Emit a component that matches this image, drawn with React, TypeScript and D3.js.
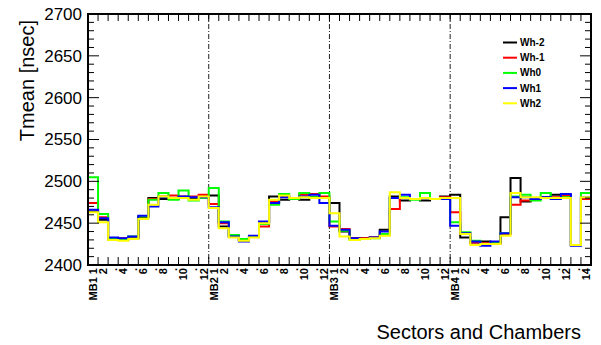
import React, { useRef, useEffect } from "react";
import * as d3 from "d3";

const chambers = ["MB1", "MB2", "MB3", "MB4"];
const sectorCounts = [12, 12, 12, 14];
const seriesNames = ["Wh-2", "Wh-1", "Wh0", "Wh1", "Wh2"];
const seriesColors = ["#000000", "#ff0000", "#00ff00", "#0000ff", "#ffff00"];
const yTickValues = [2400, 2450, 2500, 2550, 2600, 2650, 2700];

// values per bin: MB1 (12), MB2 (12), MB3 (12), MB4 (14)
const whM2 = [
  2464, 2454, 2430, 2430, 2432, 2457, 2480, 2479, 2479, 2481, 2480, 2482,
  2483, 2446, 2434, 2430, 2434, 2451, 2482, 2478, 2480, 2478, 2481, 2480,
  2474, 2440, 2432, 2432, 2433, 2442, 2482, 2477, 2479, 2477, 2479, 2482,
  2484, 2433, 2427, 2428, 2427, 2457, 2504, 2476, 2479, 2481, 2484, 2483, 2424, 2480,
];
const whM1 = [
  2474, 2457, 2432, 2432, 2432, 2458, 2479, 2482, 2483, 2482, 2482, 2484,
  2473, 2450, 2434, 2430, 2434, 2446, 2476, 2482, 2480, 2484, 2485, 2482,
  2446, 2443, 2432, 2432, 2433, 2436, 2467, 2480, 2479, 2480, 2479, 2481,
  2463, 2438, 2427, 2426, 2425, 2437, 2472, 2477, 2479, 2480, 2481, 2483, 2424, 2479,
];
const wh0 = [
  2505, 2461, 2432, 2431, 2434, 2458, 2478, 2486, 2478, 2489, 2477, 2480,
  2492, 2452, 2436, 2431, 2434, 2449, 2472, 2485, 2479, 2486, 2481, 2486,
  2452, 2441, 2430, 2431, 2432, 2437, 2480, 2481, 2478, 2486, 2479, 2480,
  2451, 2439, 2429, 2425, 2427, 2438, 2482, 2484, 2477, 2486, 2479, 2481, 2424, 2486,
];
const wh1 = [
  2466, 2456, 2433, 2432, 2434, 2459, 2470, 2481, 2480, 2482, 2481, 2481,
  2469, 2451, 2434, 2428, 2435, 2452, 2474, 2481, 2480, 2482, 2484, 2474,
  2447, 2442, 2432, 2431, 2433, 2440, 2480, 2484, 2479, 2480, 2479, 2479,
  2447, 2438, 2428, 2423, 2428, 2438, 2481, 2481, 2479, 2481, 2479, 2485, 2423, 2481,
];
const wh2 = [
  2463, 2451, 2430, 2429, 2431, 2455, 2472, 2482, 2480, 2480, 2478, 2482,
  2468, 2444, 2433, 2429, 2433, 2450, 2478, 2483, 2480, 2481, 2480, 2480,
  2462, 2434, 2430, 2431, 2432, 2435, 2487, 2480, 2479, 2480, 2479, 2480,
  2480, 2437, 2424, 2425, 2425, 2435, 2486, 2481, 2481, 2480, 2480, 2480, 2424, 2481,
];
const seriesValues = [whM2, whM1, wh0, wh1, wh2];

const binLabels: string[] = [];
chambers.forEach((ch, c) => {
  for (let s = 1; s <= sectorCounts[c]; s++) {
    binLabels.push(s === 1 ? `${ch} 1` : s % 2 === 0 ? String(s) : ".");
  }
});

const W = 601;
const H = 345;

const drawChart = (elt: SVGSVGElement) => {
  const svg = d3.select(elt);
  svg.selectAll("*").remove();

  const left = 88, right = 591, top = 14, bottom = 265;
  const nBins = binLabels.length;
  const x = d3.scaleLinear().domain([0, nBins]).range([left, right]);
  const y = d3.scaleLinear().domain([2400, 2700]).range([bottom, top]);
  const font = "'Liberation Sans', Arial, Helvetica, sans-serif";

  // chamber separators
  let edge = 0;
  sectorCounts.slice(0, -1).forEach((n) => {
    edge += n;
    svg.append("line")
      .attr("x1", x(edge)).attr("x2", x(edge))
      .attr("y1", top).attr("y2", bottom)
      .attr("stroke", "#222").attr("stroke-width", 1)
      .attr("stroke-dasharray", "5,2,1,2");
  });

  // histograms
  const line = d3.line<[number, number]>()
    .x((d) => x(d[0]))
    .y((d) => y(d[1]))
    .curve(d3.curveStepAfter);
  seriesValues.forEach((vals, k) => {
    const pts: [number, number][] = vals.map((v, i) => [i, v]);
    pts.push([nBins, vals[vals.length - 1]]);
    svg.append("path")
      .attr("d", line(pts))
      .attr("fill", "none")
      .attr("stroke", seriesColors[k])
      .attr("stroke-width", 2);
  });

  // ticks
  const ticks = svg.append("g").attr("stroke", "#000").attr("stroke-width", 1);
  y.ticks(30).forEach((t) => {
    const major = t % 50 === 0;
    const len = major ? 11 : 6;
    ticks.append("line").attr("x1", left).attr("x2", left + len).attr("y1", y(t)).attr("y2", y(t));
    ticks.append("line").attr("x1", right).attr("x2", right - len).attr("y1", y(t)).attr("y2", y(t));
  });
  d3.range(1, nBins).forEach((i) => {
    ticks.append("line").attr("x1", x(i)).attr("x2", x(i)).attr("y1", bottom).attr("y2", bottom - 8);
    ticks.append("line").attr("x1", x(i)).attr("x2", x(i)).attr("y1", top).attr("y2", top + 7);
  });

  // frame
  svg.append("rect")
    .attr("x", left).attr("y", top)
    .attr("width", right - left).attr("height", bottom - top)
    .attr("fill", "none").attr("stroke", "#000").attr("stroke-width", 2);

  // y labels
  svg.append("g").selectAll("text").data(yTickValues).enter()
    .append("text")
    .attr("x", 82).attr("y", (d) => y(d)).attr("dy", "0.35em")
    .attr("text-anchor", "end")
    .style("font-family", font).style("font-size", "17px")
    .text((d) => d);

  // x bin labels
  svg.append("g").selectAll("text").data(binLabels).enter()
    .append("text")
    .attr("transform", (d, i) => `translate(${x(i + 0.5)},268) rotate(-90)`)
    .attr("dy", "0.35em")
    .attr("text-anchor", "end")
    .style("font-family", font).style("font-size", "11px").style("font-weight", "bold")
    .text((d) => d);

  // titles
  svg.append("text")
    .attr("transform", "translate(34,20) rotate(-90)")
    .attr("text-anchor", "end")
    .style("font-family", font).style("font-size", "20px")
    .text("Tmean [nsec]");
  svg.append("text")
    .attr("x", 581).attr("y", 339)
    .attr("text-anchor", "end")
    .style("font-family", font).style("font-size", "20px")
    .text("Sectors and Chambers");

  // legend
  const legend = svg.selectAll(".legend").data(seriesNames).enter()
    .append("g")
    .attr("class", "legend")
    .attr("transform", (d, i) => `translate(503,${42.5 + i * 15.2})`);
  legend.append("line")
    .attr("x1", 0).attr("x2", 14).attr("y1", 0).attr("y2", 0)
    .attr("stroke", (d, i) => seriesColors[i]).attr("stroke-width", 2);
  legend.append("text")
    .attr("x", 17).attr("y", 0).attr("dy", "0.35em")
    .style("font-family", font).style("font-size", "10px").style("font-weight", "bold")
    .text((d) => d);
};

const App = () => {
  const ref = useRef<SVGSVGElement>(null);
  useEffect(() => {
    if (ref.current) drawChart(ref.current);
  }, []);
  return (
    <svg
      ref={ref}
      width={W}
      height={H}
      style={{ position: "absolute", left: 0, top: 0, background: "#fff" }}
    />
  );
};

export default App;
